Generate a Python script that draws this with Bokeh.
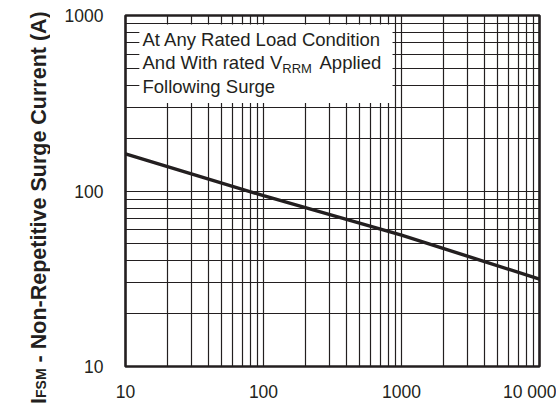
import math
from bokeh.plotting import figure
from bokeh.layouts import row
from bokeh.models import FixedTicker, Label, BoxAnnotation
from bokeh.core.properties import value
from bokeh.embed import file_html
from bokeh.resources import INLINE

# ---- data ----
pulses = [10, 100, 1000, 10000]            # number of cycles at 60 Hz
surge_current = [163, 94, 56, 31.5]        # I_FSM (A)

x_major = [10, 100, 1000, 10000]
x_labels = ["10", "100", "1000", "10 000"]
y_major = [10, 100, 1000]
y_labels = ["10", "100", "1000"]
x_minor = [m * 10 ** e for e in (1, 2, 3) for m in range(2, 10)]
y_minor = [m * 10 ** e for e in (1, 2) for m in range(2, 10)]

title_parts = ["I", "FSM", "- Non-Repetitive Surge Current (A)"]

INK = "#231f20"
FONT = "Liberation Sans"

# ---------------- main chart ----------------
p = figure(x_axis_type="log", y_axis_type="log",
           x_range=(10, 10000), y_range=(10, 1000),
           width=506, height=404,
           min_border_left=75, min_border_right=17,
           min_border_top=15, min_border_bottom=32,
           frame_align=False,
           output_backend="svg", toolbar_location=None,
           background_fill_color="white", border_fill_color="white")

p.outline_line_color = INK
p.outline_line_width = 2.6

p.xaxis.ticker = FixedTicker(ticks=x_major, minor_ticks=x_minor)
p.yaxis.ticker = FixedTicker(ticks=y_major, minor_ticks=y_minor)
p.xaxis.major_label_overrides = {float(v): t for v, t in zip(x_major, x_labels)}
p.yaxis.major_label_overrides = {float(v): t for v, t in zip(y_major, y_labels)}

for ax in (p.xaxis, p.yaxis):
    ax.axis_line_color = None
    ax.major_tick_line_color = None
    ax.minor_tick_line_color = None
    ax.major_tick_out = 0
    ax.major_tick_in = 0
    ax.minor_tick_out = 0
    ax.minor_tick_in = 0
    ax.major_label_text_font = FONT
    ax.major_label_text_font_size = "17.5px"
    ax.major_label_text_color = INK
p.xaxis.major_label_standoff = 15
p.yaxis.major_label_standoff = 22

for g in (p.xgrid, p.ygrid):
    g.grid_line_color = INK
    g.grid_line_width = 1.2
    g.grid_line_alpha = 1.0
    g.minor_grid_line_color = INK
    g.minor_grid_line_width = 1.2
    g.minor_grid_line_alpha = 1.0

p.line(pulses, surge_current, line_width=3.4, line_color=INK)

# white note box (top left)
p.add_layout(BoxAnnotation(left=12.6, right=861, bottom=317, top=890,
                           fill_color="white", fill_alpha=1.0,
                           line_color=None, level="overlay"))

def lab(x, y, text, size):
    p.add_layout(Label(x=x, y=y, x_units="screen", y_units="screen",
                       text=text, text_font=FONT, text_font_size=f"{size}px",
                       text_color=INK, text_align="left",
                       text_baseline="alphabetic", level="overlay"))

lab(17, 327, "At Any Rated Load Condition", 18.5)
lab(17, 304, "And With rated V", 18.5)
lab(156.8, 298, "RRM", 13)
lab(194, 304, "Applied", 18.5)
lab(17, 280, "Following Surge", 18.5)

# ---------------- rotated y-axis title panel ----------------
t = figure(width=50, height=404, x_range=(0, 50), y_range=(0, 404),
           min_border=0, min_border_left=0, min_border_right=0,
           min_border_top=0, min_border_bottom=0,
           frame_align=False,
           x_axis_location=None, y_axis_location=None,
           output_backend="svg", toolbar_location=None,
           background_fill_color="white", border_fill_color="white")
t.outline_line_color = None
t.xgrid.visible = False
t.ygrid.visible = False

rot = math.pi / 2
t.text(x=[38], y=[0.5], text=[title_parts[0]], angle=rot,
       text_font=value(FONT), text_font_style="bold", text_font_size="21.5px",
       text_color=INK, text_align="left", text_baseline="alphabetic")
t.text(x=[40], y=[6.5], text=[title_parts[1]], angle=rot,
       text_font=value(FONT), text_font_style="bold", text_font_size="14px",
       text_color=INK, text_align="left", text_baseline="alphabetic")
t.text(x=[38], y=[42.1], text=[title_parts[2]], angle=rot,
       text_font=value(FONT), text_font_style="bold", text_font_size="21.5px",
       text_color=INK, text_align="left", text_baseline="alphabetic")

layout = row(t, p, spacing=0)
open("out.html", "w").write(file_html(layout, INLINE))
